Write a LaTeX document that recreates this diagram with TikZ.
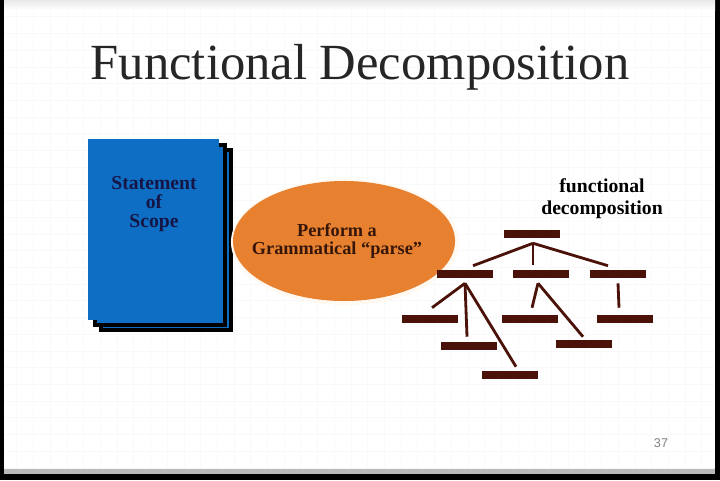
\documentclass[tikz,border=0pt]{standalone}
\usepackage{fontspec}
\setmainfont{Liberation Serif}
\setsansfont{Liberation Sans}
\usepackage{tikz}
\usetikzlibrary{shapes.geometric, positioning}

\definecolor{docblue}{RGB}{14,110,196}
\definecolor{docnavy}{RGB}{22,22,70}
\definecolor{parseorange}{RGB}{231,129,48}
\definecolor{parsetext}{RGB}{55,22,10}
\definecolor{barbrown}{RGB}{74,18,8}

\begin{document}
\begin{tikzpicture}[x=0.025cm, y=-0.025cm,
                page/.style={rectangle, fill=docblue, inner sep=0pt, minimum width=3.25cm, minimum height=4.5cm},
                doctext/.style={align=center, text=docnavy, font=\bfseries\fontsize{14}{13.8}\selectfont},
                parse/.style={ellipse, fill=parseorange, inner sep=0pt, minimum width=5.55cm, minimum height=3.0cm},
                parsetext/.style={align=center, text=parsetext, font=\bfseries\fontsize{13}{12.8}\selectfont},
                bar/.style={rectangle, fill=barbrown, inner sep=0pt, minimum width=1.42cm, minimum height=0.2cm},
                link/.style={draw=barbrown, line width=2pt}
            ]
                % Slide frame
                \fill[black] (0,0) rectangle (720,480);
                \useasboundingbox (0,0) rectangle (720,480);
                \fill[gray!55] (4,0) rectangle (715,474);
                \fill[white] (4,0) rectangle (715,468);
                \shade[top color=gray!18, bottom color=white] (4,0) rectangle (715,10);
                \draw[black!2.5, line width=0.3pt, step=0.4175cm] (4,10) grid (715,468);

                % Title
                \node[anchor=base, text=black!85, font=\fontsize{36}{40}\selectfont] (title) at (360,79) {Functional Decomposition};

                % Statement of scope pages
                \node[page, draw=black, line width=3pt] (page3) at (166,240) {};
                \node[page, draw=black, line width=3pt] (page2) at (160,235) {};
                \node[page] (scope) at (153.5,229.5) {};
                \node[doctext] (scopetext) at (154,204) {Statement\\of\\Scope};

                % Grammatical parse
                \node[ellipse, fill=orange!5, minimum width=5.7cm, minimum height=3.15cm] (glow) at (345,242) {};
                \node[parse] (parser) at (344,241) {};
                \node[parsetext] (parsetxt) at (337,241) {Perform a\\Grammatical ``parse''};

                % Functional decomposition
                \node[align=center, font=\bfseries\fontsize{14}{15.6}\selectfont] (fdlabel) at (602,199) {functional\\decomposition};

                \node[bar] (top) at (532,234) {};

                \node[bar] (l2a) at (465,274) {};
                \node[bar] (l2b) at (541,274) {};
                \node[bar] (l2c) at (618,274) {};

                \node[bar] (l3d) at (430,319) {};
                \node[bar] (l3e) at (530,319) {};
                \node[bar] (l3f) at (625,319) {};

                \node[bar] (l4g) at (469,346) {};
                \node[bar] (l4h) at (584,344) {};
                \node[bar] (l5i) at (510,375) {};

                % Paths: first level
                \draw[link] ([shift={(1,5)}]top.south) -- ([shift={(8,-4)}]l2a.north);
                \draw[link] ([shift={(1,5)}]top.south) -- ([shift={(-8,-5)}]l2b.north);
                \draw[link] ([shift={(1,5)}]top.south) -- ([shift={(-10,-4)}]l2c.north);

                % Paths: second level
                \draw[link] ([shift={(0,5)}]l2a.south) -- ([shift={(2,-7)}]l3d.north);
                \draw[link] ([shift={(0,5)}]l2a.south) -- ([shift={(-2,-5)}]l4g.north);
                \draw[link] ([shift={(0,5)}]l2a.south) -- ([shift={(6,-4)}]l5i.north);

                \draw[link] ([shift={(-3,5)}]l2b.south) -- ([shift={(2,-7)}]l3e.north);
                \draw[link] ([shift={(-3,5)}]l2b.south) -- ([shift={(-1,-3)}]l4h.north);

                \draw[link] ([shift={(0,5)}]l2c.south) -- ([shift={(-6,-7)}]l3f.north);

                % Page number
                \node[text=gray, font=\sffamily\fontsize{9}{10}\selectfont] (pagenum) at (661,443) {37};
            \end{tikzpicture}
\end{document}
